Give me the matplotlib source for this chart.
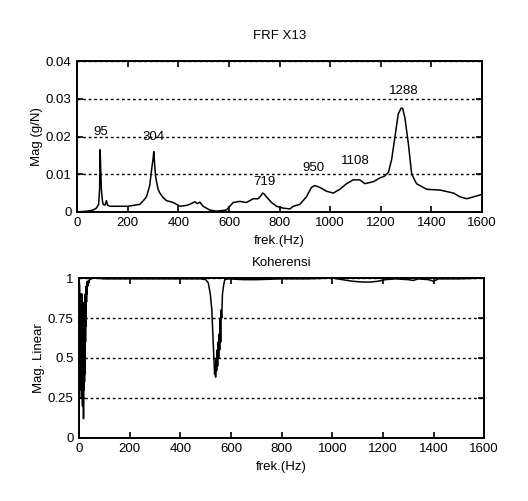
import numpy as np
import matplotlib.pyplot as plt

plt.rcParams['font.family'] = ['Liberation Sans Narrow', 'Liberation Sans', 'DejaVu Sans']

# FRF magnitude (Hz, g/N)
frf_freq = [0, 20, 40, 63, 76, 85, 89, 91, 93, 96, 100, 103, 110, 116, 120, 130, 160, 200, 248,
            262, 274, 287, 294, 300, 303, 306, 310, 314, 320, 327, 340, 353, 380, 406, 430, 445,
            465, 475, 485, 498, 524, 551, 590, 603, 617, 643, 669, 696, 715, 725, 733, 740, 748,
            768, 788, 814, 841, 854, 880, 906, 926, 939, 959, 985, 1012, 1038, 1065, 1091, 1117,
            1137, 1170, 1196, 1215, 1230, 1243, 1256, 1269, 1280, 1286, 1295, 1309, 1322, 1341,
            1381, 1434, 1487, 1513, 1540, 1566, 1592, 1600]
frf_mag = [0.0, 0.0001, 0.0002, 0.0005, 0.001, 0.002, 0.006, 0.0165, 0.012, 0.006, 0.003, 0.002,
           0.0018, 0.003, 0.0018, 0.0015, 0.0015, 0.0015, 0.002,
           0.003, 0.004, 0.007, 0.011, 0.014, 0.016, 0.013, 0.0095, 0.008, 0.006, 0.005, 0.0038,
           0.003, 0.0025, 0.0015, 0.0017, 0.002,
           0.0027, 0.0022, 0.0026, 0.0015, 0.0005, 0.0002, 0.0005, 0.0015, 0.0025, 0.0028, 0.0025,
           0.0035, 0.0035, 0.0042, 0.005, 0.0047, 0.004,
           0.0025, 0.0015, 0.001, 0.0008, 0.0015, 0.002, 0.004, 0.0065, 0.007, 0.0065, 0.0055,
           0.005, 0.006, 0.0075, 0.0085, 0.0085,
           0.0075, 0.008, 0.009, 0.0095, 0.0105, 0.014, 0.020, 0.026, 0.0275, 0.0275, 0.025,
           0.018, 0.010, 0.0075,
           0.006, 0.0058, 0.005, 0.004, 0.0035, 0.004, 0.0045, 0.0047]

peak_freq = [95, 304, 719, 950, 1108, 1288]
peak_lbl_x = [95, 300, 740, 935, 1100, 1290]
peak_lbl_y = [0.0195, 0.0182, 0.0063, 0.0100, 0.0120, 0.0305]

# coherence (noisy dips near 0-40 Hz and 530-570 Hz)
coh_freq = [0, 2, 3, 4, 5, 6, 7, 8, 9, 10, 11, 12, 13, 14, 15, 16, 17, 18, 19, 20, 21, 22, 23,
            24, 25, 26, 27, 28, 29, 30, 31, 32, 34, 36, 38, 40, 44, 50, 60,
            100, 200, 300, 400, 480, 500, 510, 518, 524, 528, 532, 535, 537, 539, 541, 543, 545,
            547, 549, 551, 553, 555, 557, 559, 561, 563, 566, 570, 575, 590, 650, 700, 800,
            900, 1000, 1040, 1080, 1120, 1150, 1180, 1210, 1250, 1300, 1320, 1340, 1380, 1400,
            1420, 1500, 1600]
coh_val = [0.98, 0.95, 0.8, 0.9, 0.45, 0.85, 0.3, 0.9, 0.25, 0.88, 0.35, 0.9, 0.2, 0.85, 0.3,
           0.8, 0.12, 0.7, 0.3, 0.75, 0.35, 0.8, 0.4, 0.9, 0.6, 0.93, 0.7, 0.95, 0.85, 0.97,
           0.9, 0.98, 0.95, 0.98, 0.97, 0.99, 0.99, 1.0, 1.0,
           0.995, 0.995, 0.995, 0.995, 0.995, 0.99, 0.97, 0.9, 0.8, 0.65, 0.5, 0.4, 0.45, 0.38,
           0.5, 0.42, 0.55, 0.45, 0.6, 0.5, 0.65, 0.55, 0.75, 0.6, 0.8, 0.75, 0.9, 0.95, 0.99,
           0.995, 0.99, 0.99, 0.995,
           0.995, 1.0, 0.99, 0.98, 0.975, 0.975, 0.98, 0.99, 0.995, 0.99, 0.985, 0.995, 0.99,
           0.98, 0.995, 0.995, 1.0]

fig = plt.figure(figsize=(5.28, 5.01), dpi=100)
ax1 = fig.add_axes([0.146, 0.577, 0.767, 0.301])
ax2 = fig.add_axes([0.150, 0.126, 0.767, 0.319])

fs = 9.5

def style(ax):
    ax.set_xlim(0, 1600)
    ax.set_xticks(np.arange(0, 1601, 200))
    ax.tick_params(direction='in', top=True, right=True, length=4, width=1.2, labelsize=fs,
                   pad=4)
    for s in ax.spines.values():
        s.set_linewidth(1.4)
    ax.yaxis.grid(True, linestyle=(0, (2, 2)), color='black', linewidth=1.0)
    ax.set_axisbelow(True)

ax1.plot(frf_freq, frf_mag, color='black', linewidth=1.1)
style(ax1)
ax1.set_ylim(0, 0.04)
ax1.set_yticks([0, 0.01, 0.02, 0.03, 0.04])
ax1.set_yticklabels(['0', '0.01', '0.02', '0.03', '0.04'])
for f, x, y in zip(peak_freq, peak_lbl_x, peak_lbl_y):
    ax1.text(x, y, str(f), ha='center', va='bottom', fontsize=fs)
ax1.set_title('FRF X13', fontsize=fs, pad=16)
ax1.set_xlabel('frek.(Hz)', fontsize=fs, labelpad=4)
ax1.set_ylabel('Mag (g/N)', fontsize=fs, labelpad=2)

ax2.plot(coh_freq, coh_val, color='black', linewidth=1.1)
style(ax2)
ax2.set_ylim(0, 1)
ax2.set_yticks([0, 0.25, 0.5, 0.75, 1])
ax2.set_yticklabels(['0', '0.25', '0.5', '0.75', '1'])
ax2.set_title('Koherensi', fontsize=fs, pad=9)
ax2.set_xlabel('frek.(Hz)', fontsize=fs, labelpad=4)
ax2.set_ylabel('Mag. Linear', fontsize=fs, labelpad=2)

fig.savefig('out.png', dpi=100)
